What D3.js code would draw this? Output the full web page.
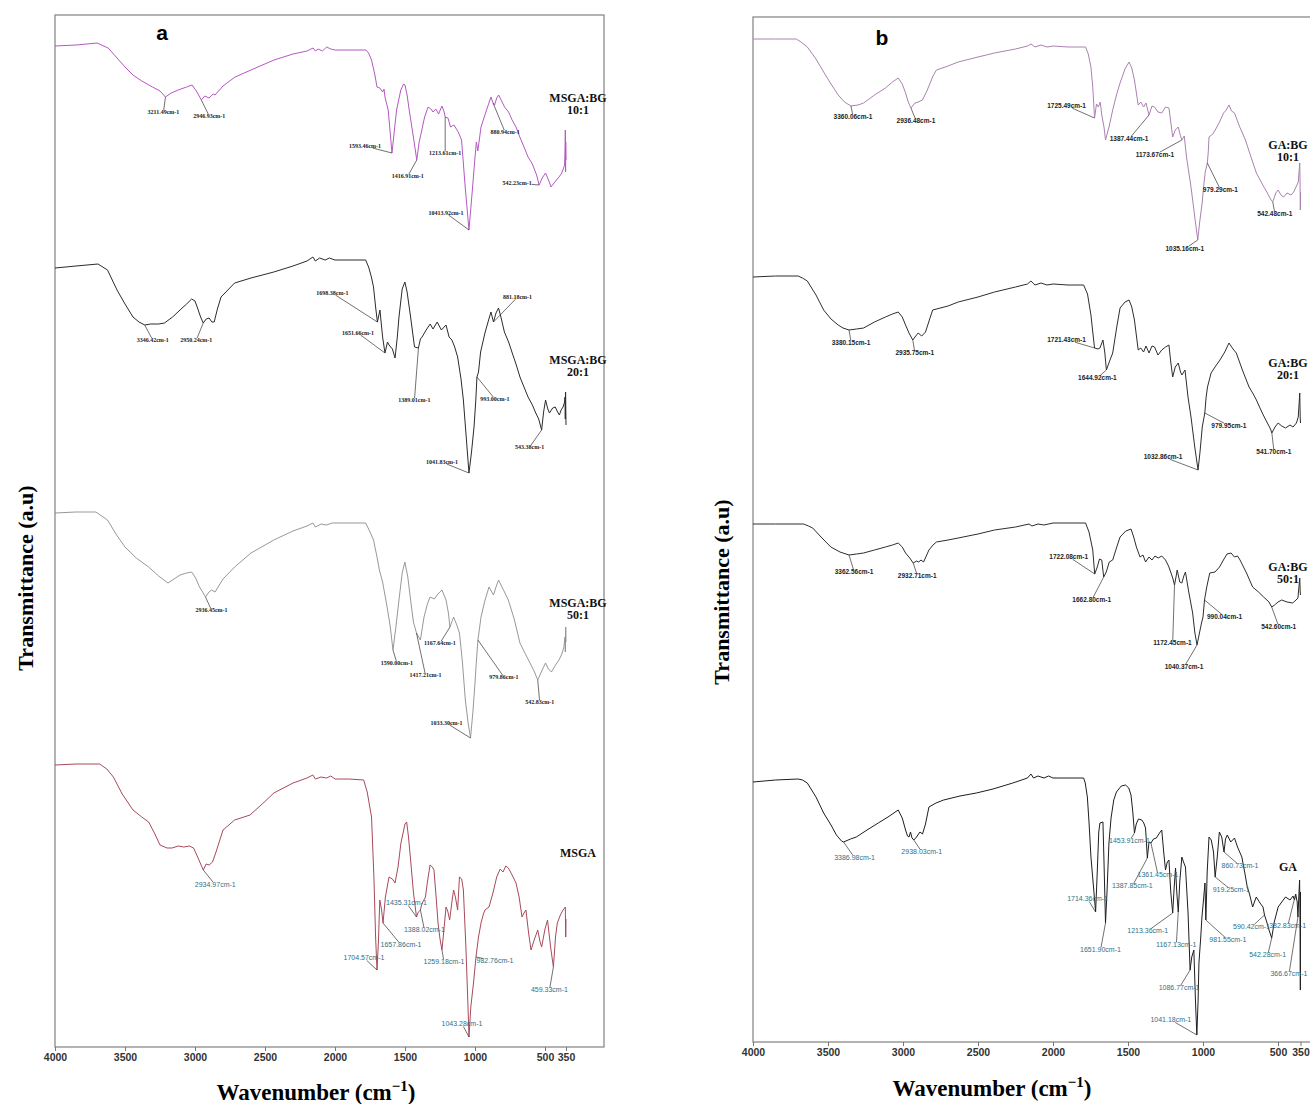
<!DOCTYPE html>
<html>
<head>
<meta charset="utf-8">
<script src="https://cdn.jsdelivr.net/npm/d3@7"></script>
<style>
body { margin: 0; background: #fff; }
</style>
</head>
<body>
<div id="chart"></div>
<script>

// ---- data (wavenumber cm-1, transmittance a.u., spectra stacked) ----
var wavenumberTicks = [4000, 3500, 3000, 2500, 2000, 1500, 1000, 500, 350];

var msgaBg10 = [[4000,100.1],[3850,100.2],[3700,100.4],[3620,99.9],[3557,98.9],[3500,98.0],[3443,97.2],[3380,96.6],[3304,96.0],[3250,95.6],[3211,95.0],[3170,95.4],[3120,95.7],[3060,96.0],[3021,96.2],[2990,95.6],[2955,94.7],[2930,95.1],[2900,94.9],[2870,95.3],[2857,95.2],[2800,96.1],[2714,97.0],[2600,97.7],[2436,98.7],[2300,99.3],[2200,99.6],[2157,99.9],[2140,99.6],[2120,99.8],[2090,99.6],[2060,100.0],[2030,99.8],[2000,99.7],[1900,99.7],[1779,99.7],[1760,99.4],[1739,98.7],[1715,97.2],[1700,96.0],[1680,95.9],[1660,95.5],[1650,95.8],[1643,95.0],[1620,93.7],[1593,89.4],[1575,91.8],[1560,93.7],[1530,95.7],[1510,96.3],[1500,96.2],[1485,95.2],[1470,93.7],[1440,91.0],[1416,88.7],[1400,90.4],[1380,91.7],[1360,93.0],[1335,94.0],[1315,93.8],[1300,93.5],[1280,93.8],[1260,93.3],[1236,94.1],[1220,93.5],[1213,93.0],[1193,92.9],[1175,92.0],[1150,92.2],[1120,91.5],[1096,90.7],[1070,86.0],[1043,81.7],[1020,85.5],[1000,89.0],[990,90.5],[980,89.6],[957,92.0],[920,93.6],[886,95.0],[871,94.4],[860,94.2],[845,94.9],[831,95.2],[810,94.6],[789,94.0],[760,93.5],[735,92.7],[707,92.0],[680,91.0],[650,90.0],[621,89.0],[590,88.3],[560,87.2],[542,86.2],[520,86.9],[496,87.4],[475,86.7],[457,86.0],[430,86.5],[400,87.0],[380,87.4],[360,88.2],[356,90.2],[355,91.7],[353,87.5],[352,90.5],[350,88.7]];

var msgaBg20 = [[4000,77.9],[3850,78.1],[3693,78.3],[3625,77.7],[3557,75.7],[3500,74.3],[3443,73.0],[3400,72.5],[3359,72.2],[3317,72.3],[3260,72.3],[3218,72.4],[3160,73.0],[3107,73.7],[3060,74.3],[3024,74.8],[3000,74.6],[2982,73.9],[2960,73.0],[2941,72.4],[2920,72.8],[2899,72.9],[2880,72.5],[2863,72.5],[2840,73.8],[2814,75.0],[2717,76.4],[2600,76.9],[2437,77.5],[2300,78.1],[2200,78.6],[2158,79.0],[2140,78.6],[2110,78.9],[2070,78.7],[2040,78.9],[2000,78.7],[1900,78.7],[1781,78.7],[1760,78.0],[1740,77.0],[1725,76.0],[1710,74.0],[1697,72.5],[1679,73.7],[1660,71.0],[1643,69.4],[1625,70.5],[1614,70.2],[1590,69.8],[1571,68.9],[1555,71.0],[1543,73.0],[1520,75.8],[1501,76.5],[1485,75.5],[1460,73.0],[1432,70.0],[1404,69.9],[1390,70.8],[1378,71.0],[1349,71.7],[1320,72.3],[1300,71.8],[1270,72.5],[1240,71.7],[1207,72.2],[1185,71.0],[1165,70.7],[1145,70.0],[1124,69.0],[1100,66.8],[1083,64.7],[1060,60.5],[1043,57.4],[1025,59.5],[1007,62.0],[995,64.5],[986,67.0],[975,67.5],[960,69.5],[929,71.4],[905,72.6],[886,73.5],[868,72.5],[850,73.4],[832,73.9],[815,73.0],[790,71.5],[760,70.5],[734,69.4],[705,68.2],[679,67.0],[650,66.0],[621,65.0],[590,64.2],[566,63.4],[545,62.8],[524,61.7],[510,63.5],[496,64.7],[480,63.8],[468,63.4],[445,63.9],[427,64.0],[410,63.5],[397,63.2],[385,63.7],[371,64.0],[360,64.5],[357,65.0],[355,62.8],[353,65.5],[350,62.2]];

var msgaBg50 = [[4000,53.4],[3850,53.5],[3708,53.5],[3625,52.7],[3560,51.2],[3500,50.0],[3420,48.9],[3331,48.0],[3260,47.1],[3193,46.4],[3150,46.8],[3107,47.2],[3060,47.4],[3024,47.5],[2995,46.9],[2968,46.0],[2945,45.5],[2925,45.0],[2900,45.5],[2882,45.7],[2857,45.5],[2800,46.8],[2717,48.0],[2600,49.4],[2437,50.7],[2300,51.6],[2200,52.1],[2158,52.4],[2140,52.0],[2100,52.3],[2060,52.2],[2020,52.4],[1900,52.4],[1781,52.4],[1760,51.8],[1725,50.7],[1700,49.0],[1683,47.7],[1660,46.5],[1628,44.0],[1605,42.0],[1586,39.7],[1565,42.0],[1543,44.7],[1520,47.4],[1501,48.5],[1480,47.0],[1460,44.7],[1440,42.5],[1418,41.4],[1390,40.7],[1364,43.0],[1340,44.3],[1321,45.0],[1290,44.8],[1265,45.3],[1236,45.7],[1207,44.7],[1190,43.4],[1179,42.0],[1153,43.0],[1130,42.2],[1111,41.4],[1090,38.5],[1069,34.7],[1050,32.5],[1032,30.9],[1015,33.5],[1000,36.4],[990,38.6],[979,40.7],[957,43.0],[930,44.6],[900,46.0],[868,45.2],[850,46.0],[832,46.7],[800,45.8],[762,44.7],[720,42.8],[679,40.4],[640,39.3],[607,38.4],[575,37.5],[552,36.7],[520,37.7],[496,38.4],[475,37.8],[454,37.5],[425,38.2],[400,38.7],[380,39.3],[365,40.0],[357,41.0],[355,39.5],[352,42.0],[350,40.5]];

var msga = [[4000,28.2],[3850,28.3],[3681,28.3],[3630,27.8],[3583,27.0],[3520,25.3],[3443,23.7],[3380,23.0],[3331,22.5],[3290,21.4],[3250,20.2],[3200,19.9],[3164,19.9],[3120,20.1],[3080,20.0],[3040,20.1],[3010,19.9],[2975,18.8],[2941,17.7],[2920,18.3],[2899,18.2],[2875,18.5],[2850,19.5],[2800,21.7],[2717,22.7],[2607,23.2],[2520,24.3],[2437,25.4],[2300,26.4],[2200,26.9],[2158,27.2],[2140,26.8],[2100,27.0],[2060,26.9],[2030,27.1],[2000,26.8],[1900,26.8],[1795,26.7],[1770,25.5],[1739,23.0],[1722,17.0],[1710,11.0],[1700,7.7],[1690,10.5],[1680,14.7],[1668,13.8],[1657,12.4],[1640,15.0],[1614,17.0],[1590,16.8],[1571,16.4],[1550,18.0],[1529,20.4],[1500,22.3],[1488,22.5],[1475,21.0],[1460,18.7],[1440,15.5],[1418,13.0],[1405,13.5],[1390,13.7],[1380,14.3],[1354,15.0],[1340,16.5],[1321,18.2],[1305,18.0],[1293,17.7],[1275,14.5],[1264,12.4],[1250,10.8],[1236,9.7],[1220,12.0],[1207,14.0],[1195,13.6],[1181,12.7],[1165,14.5],[1153,15.7],[1140,15.0],[1124,13.7],[1111,17.0],[1095,16.8],[1083,15.7],[1065,10.0],[1050,4.0],[1043,1.0],[1030,4.0],[1010,6.5],[993,9.0],[975,11.0],[957,12.4],[940,13.3],[929,13.7],[900,14.0],[870,15.5],[845,17.0],[820,17.8],[800,17.5],[780,18.1],[762,17.9],[735,17.2],[707,16.4],[685,15.0],[664,13.0],[650,13.4],[636,13.7],[618,11.5],[600,9.7],[575,10.8],[552,11.7],[535,10.5],[524,10.0],[500,11.8],[482,12.7],[460,10.0],[440,8.0],[425,11.0],[412,12.4],[390,13.2],[371,13.7],[355,14.0],[352,11.0],[350,12.8]];

var gaBg10 = [[4000,100.3],[3850,100.3],[3711,100.3],[3680,100.0],[3638,99.5],[3580,98.3],[3529,97.0],[3480,95.8],[3432,94.7],[3390,94.0],[3347,93.6],[3300,93.7],[3263,93.9],[3190,94.7],[3117,95.4],[3070,96.0],[3032,96.4],[3005,95.8],[2983,94.9],[2965,94.0],[2947,93.4],[2920,93.9],[2899,94.0],[2870,94.2],[2838,95.2],[2800,96.6],[2777,97.2],[2700,97.6],[2632,98.0],[2500,98.5],[2390,98.9],[2250,99.3],[2170,99.6],[2147,99.8],[2120,99.5],[2080,99.7],[2040,99.5],[2000,99.6],[1900,99.5],[1783,99.5],[1765,98.8],[1747,97.5],[1735,95.5],[1723,92.4],[1710,93.8],[1698,93.5],[1685,94.0],[1675,92.7],[1660,91.5],[1650,90.2],[1625,91.6],[1602,93.2],[1575,94.8],[1553,95.9],[1520,97.3],[1493,98.0],[1475,97.4],[1457,96.2],[1432,93.7],[1415,94.0],[1396,93.5],[1380,93.9],[1360,92.7],[1340,93.6],[1323,93.5],[1300,93.0],[1275,92.9],[1250,93.5],[1227,93.4],[1215,92.0],[1202,90.5],[1185,91.2],[1165,91.5],[1150,90.6],[1141,90.2],[1125,90.6],[1110,88.5],[1080,85.5],[1055,82.5],[1035,80.2],[1022,82.0],[1005,84.0],[996,85.5],[985,87.0],[971,87.9],[965,89.0],[960,90.5],[935,90.8],[911,91.4],[890,92.0],[863,92.9],[845,93.2],[827,93.7],[810,93.1],[790,92.9],[755,91.5],[717,90.2],[680,88.5],[644,86.9],[605,85.8],[571,84.9],[550,84.3],[535,84.0],[515,84.9],[499,85.2],[480,84.7],[462,84.5],[440,84.9],[413,84.7],[395,85.0],[377,85.6],[365,86.0],[355,87.9],[353,86.0],[351,83.2],[350,85.0]];

var gaBg20 = [[4000,76.5],[3850,76.6],[3699,76.6],[3670,76.4],[3638,76.1],[3580,74.7],[3529,73.2],[3480,72.3],[3432,71.7],[3400,71.4],[3360,71.2],[3310,71.3],[3263,71.4],[3190,72.0],[3117,72.5],[3070,72.8],[3032,73.0],[3005,72.5],[2983,71.7],[2960,70.9],[2935,70.2],[2915,70.6],[2899,70.9],[2875,70.6],[2850,71.0],[2820,72.4],[2802,73.2],[2700,73.6],[2632,74.0],[2500,74.5],[2390,75.0],[2250,75.5],[2170,75.8],[2147,76.1],[2120,75.7],[2080,75.9],[2040,75.7],[2000,75.8],[1900,75.7],[1796,75.7],[1770,74.8],[1747,72.7],[1735,71.0],[1723,69.4],[1700,69.3],[1687,69.4],[1667,70.2],[1655,69.0],[1644,67.2],[1625,68.0],[1602,68.9],[1575,71.5],[1553,73.4],[1520,74.0],[1493,74.2],[1475,73.5],[1457,72.2],[1432,69.2],[1415,69.4],[1396,69.0],[1380,69.6],[1360,68.9],[1340,69.6],[1323,69.5],[1300,68.7],[1275,69.2],[1250,69.5],[1227,69.7],[1215,68.0],[1202,66.5],[1185,67.5],[1165,67.9],[1150,67.0],[1141,66.7],[1120,67.2],[1100,64.5],[1080,62.5],[1055,59.5],[1033,57.2],[1020,59.0],[1005,61.5],[988,62.9],[979,64.5],[970,65.5],[946,66.9],[920,67.5],[887,68.2],[855,69.0],[827,69.9],[800,69.3],[778,68.9],[740,67.3],[693,65.5],[665,64.8],[644,64.2],[605,62.9],[571,61.9],[550,61.3],[541,60.9],[520,61.5],[499,61.9],[475,61.6],[450,61.4],[420,61.7],[400,61.5],[377,61.9],[365,62.5],[355,64.9],[352,62.5],[350,61.9]];

var gaBg50 = [[4000,51.8],[3850,51.8],[3663,51.8],[3630,51.6],[3602,51.4],[3540,50.4],[3481,49.5],[3420,49.0],[3360,48.7],[3310,48.8],[3263,48.9],[3190,49.2],[3117,49.5],[3070,49.7],[3032,49.9],[3005,49.5],[2983,48.9],[2955,48.4],[2932,47.9],[2910,48.1],[2895,48.0],[2880,48.2],[2863,48.0],[2845,48.6],[2827,49.2],[2800,49.7],[2777,50.0],[2700,50.2],[2632,50.4],[2500,50.8],[2390,51.2],[2250,51.5],[2160,51.8],[2140,51.6],[2100,51.8],[2060,51.7],[2000,51.9],[1900,51.9],[1783,51.9],[1760,51.0],[1735,49.2],[1722,46.8],[1705,47.5],[1690,48.3],[1675,48.2],[1662,46.5],[1645,47.0],[1625,48.0],[1602,48.2],[1575,49.5],[1553,50.5],[1515,51.1],[1480,51.3],[1462,50.5],[1444,49.5],[1420,48.5],[1400,48.7],[1383,48.0],[1360,48.5],[1340,48.2],[1320,48.6],[1299,48.4],[1275,48.6],[1250,48.2],[1230,47.6],[1213,46.9],[1200,46.3],[1190,45.7],[1180,46.5],[1172,47.2],[1155,46.0],[1141,45.9],[1128,46.6],[1117,47.0],[1095,45.0],[1069,42.9],[1055,41.0],[1040,39.7],[1025,40.8],[1010,41.9],[1000,42.5],[990,44.2],[975,45.5],[955,46.9],[920,47.0],[890,47.5],[860,48.3],[840,48.8],[813,48.9],[790,48.5],[770,48.6],[753,48.2],[710,46.9],[669,45.5],[630,45.0],[596,44.5],[560,44.0],[542,43.5],[523,43.7],[500,44.0],[475,44.2],[440,44.0],[402,43.9],[380,44.2],[367,44.4],[355,46.4],[352,45.0],[350,44.7]];

var ga = [[4000,26.0],[3850,26.2],[3699,26.3],[3670,26.2],[3638,25.9],[3580,24.5],[3529,22.9],[3480,21.7],[3444,20.7],[3410,20.1],[3396,20.0],[3350,20.3],[3311,20.5],[3240,21.2],[3165,21.9],[3100,22.5],[3032,23.2],[3005,22.4],[2983,21.2],[2970,20.6],[2960,20.5],[2950,21.0],[2940,20.4],[2928,20.2],[2910,20.5],[2887,21.0],[2870,20.8],[2850,21.8],[2827,23.5],[2780,23.9],[2729,24.2],[2620,24.6],[2511,24.9],[2400,25.3],[2268,25.9],[2170,26.4],[2147,26.8],[2130,26.4],[2100,26.6],[2060,26.4],[2030,26.6],[2000,26.4],[1900,26.4],[1796,26.4],[1785,25.9],[1771,24.5],[1760,22.0],[1747,18.5],[1730,15.5],[1716,13.0],[1705,17.0],[1695,21.0],[1687,21.9],[1667,22.0],[1660,18.0],[1650,11.9],[1640,15.0],[1627,19.9],[1613,22.4],[1595,24.2],[1577,25.0],[1545,25.6],[1517,25.7],[1495,25.4],[1480,24.7],[1468,23.0],[1457,20.9],[1445,21.8],[1430,22.3],[1408,22.2],[1395,21.9],[1383,21.4],[1371,18.4],[1360,20.0],[1347,19.9],[1330,20.3],[1311,20.4],[1290,20.9],[1275,21.2],[1262,19.0],[1250,17.2],[1238,18.0],[1227,18.2],[1215,15.0],[1202,12.9],[1192,15.5],[1183,17.4],[1175,15.0],[1165,13.0],[1155,16.0],[1141,18.5],[1130,18.0],[1117,17.5],[1100,13.0],[1086,7.2],[1075,8.5],[1061,9.2],[1050,4.0],[1041,0.7],[1033,4.0],[1027,7.9],[1015,10.5],[1007,12.5],[995,14.5],[987,15.9],[981,12.2],[972,17.0],[960,20.5],[945,20.2],[930,19.0],[919,16.5],[905,18.5],[891,21.0],[875,20.5],[860,19.0],[850,20.3],[838,20.7],[815,20.0],[790,20.4],[770,19.5],[741,18.5],[720,16.8],[705,15.5],[690,14.8],[669,13.5],[645,14.5],[620,13.9],[600,13.5],[590,12.7],[575,12.0],[560,11.2],[542,10.4],[525,12.0],[499,13.5],[475,14.0],[450,14.5],[420,14.2],[400,14.6],[390,14.2],[382,14.8],[372,14.0],[367,12.5],[362,14.3],[356,16.2],[353,12.0],[351,5.2],[350,15.0]];

// peak labels: [text, wavenumber, label dx, label dy]
var msgaBg10Peaks = [["3211.49cm-1",3211,-2,15],["2946.93cm-1",2955,8,16],["1593.46cm-1",1593,-27,-7],["1416.91cm-1",1416,-9,16],["1213.61cm-1",1213,0,36],["10413.92cm-1",1043,-23,-17],["880.94cm-1",871,12,29],["542.23cm-1",542,-22,-2]];
var msgaBg20Peaks = [["3346.42cm-1",3359,8,15],["2950.24cm-1",2941,-7,17],["1698.38cm-1",1697,-45,-29],["1651.66cm-1",1643,-27,-20],["1389.01cm-1",1404,-4,52],["993.00cm-1",986,18,22],["881.18cm-1",868,24,-25],["1041.83cm-1",1043,-27,-11],["543.38cm-1",524,-12,17]];
var msgaBg50Peaks = [["2936.45cm-1",2925,6,13],["1590.00cm-1",1586,4,13],["1417.21cm-1",1418,9,42],["1167.64cm-1",1179,-10,16],["979.86cm-1",979,26,37],["1033.30cm-1",1032,-24,-15],["542.83cm-1",552,2,22]];
var msgaPeaks = [["2934.97cm-1",2941,12,15],["1435.31cm-1",1418,-10,-14],["1388.02cm-1",1390,4,20],["1657.86cm-1",1657,18,22],["1704.57cm-1",1700,-13,-12],["1259.18cm-1",1236,2,12],["982.76cm-1",993,19,4],["459.33cm-1",440,-4,23],["1043.28cm-1",1043,-7,-13]];
var gaBg10Peaks = [["3360.06cm-1",3347,2,11],["2936.48cm-1",2947,5,13],["1725.49cm-1",1723,-28,-12],["1387.44cm-1",1360,-20,24],["1173.67cm-1",1141,-27,15],["1035.16cm-1",1035,-13,9],["979.29cm-1",971,13,27],["542.48cm-1",535,2,12]];
var gaBg20Peaks = [["3380.15cm-1",3360,2,13],["2935.75cm-1",2935,2,13],["1721.43cm-1",1723,-28,-8],["1644.92cm-1",1644,-9,8],["1032.86cm-1",1033,-35,-13],["979.95cm-1",988,24,13],["541.70cm-1",541,2,19]];
var gaBg50Peaks = [["3362.56cm-1",3360,5,17],["2932.71cm-1",2932,4,13],["1722.08cm-1",1722,-26,-17],["1662.80cm-1",1662,-12,23],["1172.45cm-1",1190,-2,58],["1040.37cm-1",1040,-13,22],["990.04cm-1",990,20,17],["542.60cm-1",542,7,20]];
var gaPeaks = [["3386.98cm-1",3396,11,16],["2938.03cm-1",2928,8,12],["1714.36cm-1",1716,-8,-13],["1651.90cm-1",1650,-5,27],["1453.91cm-1",1457,-5,8],["1387.85cm-1",1371,-15,28],["1361.45cm-1",1347,7,32],["1213.36cm-1",1202,-25,18],["1167.13cm-1",1165,-2,33],["1086.77cm-1",1086,-11,18],["1041.18cm-1",1041,-26,-15],["981.55cm-1",981,22,20],["919.25cm-1",919,16,13],["860.73cm-1",860,16,14],["590.42cm-1",590,-13,12],["542.28cm-1",542,-4,17],["382.83cm-1",382,-8,32],["366.67cm-1",367,-9,57]];

var sampleNamesA = [["MSGA:BG", "10:1"], ["MSGA:BG", "20:1"], ["MSGA:BG", "50:1"], ["MSGA"]];
var sampleNamesB = [["GA:BG", "10:1"], ["GA:BG", "20:1"], ["GA:BG", "50:1"], ["GA"]];

// ---- layout ----
var width = 1310, height = 1104;

var svg = d3.select("#chart")
    .append("svg")
        .attr("width", width)
        .attr("height", height)
        .style("display", "block");

svg.append("rect").attr("width", width).attr("height", height).attr("fill", "#fff");

var panels = [
    {
        letter: "a", x0: 55, x1: 566, frameRight: 604, top: 15, bottom: 1047, yMax: 103.2,
        letterPos: [162, 40], yTitle: [25, 578], xTitle: [316, 1100],
        nameX: 578, nameY: [98, 360, 603, 853], names: sampleNamesA,
        series: [
            {data: msgaBg10, peaks: msgaBg10Peaks, color: "#b558c2", w: 1, font: "'Liberation Serif', serif", size: 6, tcolor: "#1a1a1a", weight: "bold"},
            {data: msgaBg20, peaks: msgaBg20Peaks, color: "#2b2b2b", w: 1, font: "'Liberation Serif', serif", size: 6, tcolor: "#1a1a1a", weight: "bold"},
            {data: msgaBg50, peaks: msgaBg50Peaks, color: "#8c8c8c", w: 0.9, font: "'Liberation Serif', serif", size: 6, tcolor: "#1a1a1a", weight: "bold"},
            {data: msga, peaks: msgaPeaks, color: "#a84a5a", w: 1, font: "'Liberation Sans', Arial, sans-serif", size: 7, tcolor: "#2f7088", weight: "normal"}
        ]
    },
    {
        letter: "b", x0: 753, x1: 1300.5, frameRight: 1330, top: 17, bottom: 1042, yMax: 102.5,
        letterPos: [882, 45], yTitle: [721, 592], xTitle: [992, 1096],
        nameX: 1288, nameY: [145, 363, 567, 867], names: sampleNamesB,
        series: [
            {data: gaBg10, peaks: gaBg10Peaks, color: "#aa82b0", w: 1, font: "'Liberation Sans', Arial, sans-serif", size: 6.5, tcolor: "#222", weight: "bold"},
            {data: gaBg20, peaks: gaBg20Peaks, color: "#2e2e2e", w: 1, font: "'Liberation Sans', Arial, sans-serif", size: 6.5, tcolor: "#222", weight: "bold"},
            {data: gaBg50, peaks: gaBg50Peaks, color: "#2e2e2e", w: 1, font: "'Liberation Sans', Arial, sans-serif", size: 6.5, tcolor: "#222", weight: "bold"},
            {data: ga, peaks: gaPeaks, color: "#1e1e1e", w: 1, font: "'Liberation Sans', Arial, sans-serif", size: 7, tcolor: "#2f7088", weight: "normal"}
        ]
    }
];

function valueAt(series, w) {
    var asc = series.slice().sort(function(a, b) { return a[0] - b[0]; });
    var i = d3.bisector(function(d) { return d[0]; }).left(asc, w);
    if (i <= 0) return asc[0][1];
    if (i >= asc.length) return asc[asc.length - 1][1];
    var a = asc[i - 1], b = asc[i];
    var t = (w - a[0]) / (b[0] - a[0]);
    return a[1] + t * (b[1] - a[1]);
}

panels.forEach(function(p) {
    var xScale = d3.scaleLinear().domain([4000, 350]).range([p.x0, p.x1]);
    var yScale = d3.scaleLinear().domain([0, p.yMax]).range([p.bottom, p.top]);
    var g = svg.append("g");

    // frame
    g.append("rect")
        .attr("x", p.x0).attr("y", p.top)
        .attr("width", p.frameRight - p.x0).attr("height", p.bottom - p.top)
        .attr("fill", "none").attr("stroke", "#8a8a8a").attr("stroke-width", 1.3);

    // x axis
    var axis = g.append("g")
        .attr("transform", "translate(0," + p.bottom + ")")
        .call(d3.axisBottom(xScale).tickValues(wavenumberTicks).tickSize(4).tickPadding(3).tickFormat(d3.format("d")));
    axis.select(".domain").remove();
    axis.selectAll(".tick line").attr("stroke", "#777");
    axis.selectAll(".tick text")
        .attr("fill", "#333")
        .style("font-family", "'Liberation Sans', Arial, sans-serif")
        .style("font-size", "10.5px")
        .style("font-weight", "bold");

    var line = d3.line()
        .x(function(d) { return xScale(d[0]); })
        .y(function(d) { return yScale(d[1]); });

    p.series.forEach(function(s, si) {
        g.append("path")
            .datum(s.data)
            .attr("d", line)
            .attr("fill", "none")
            .attr("stroke", s.color)
            .attr("stroke-width", s.w)
            .attr("stroke-linejoin", "round");

        var ann = g.append("g");
        s.peaks.forEach(function(pk) {
            var px = xScale(pk[1]), py = yScale(valueAt(s.data, pk[1]));
            var t = ann.append("text")
                .attr("x", px + pk[2]).attr("y", py + pk[3])
                .attr("dy", "0.35em")
                .attr("text-anchor", "middle")
                .attr("fill", s.tcolor)
                .style("font-family", s.font)
                .style("font-size", s.size + "px")
                .style("font-weight", s.weight)
                .text(pk[0]);
            var bb = t.node().getBBox();
            var cx = bb.x + bb.width / 2, cy = bb.y + bb.height / 2;
            var dx = cx - px, dy = cy - py;
            var k = Math.min(dx ? (bb.width / 2) / Math.abs(dx) : Infinity,
                             dy ? (bb.height / 2 - 1) / Math.abs(dy) : Infinity, 1);
            ann.append("line")
                .attr("x1", px).attr("y1", py)
                .attr("x2", cx - dx * k).attr("y2", cy - dy * k)
                .attr("stroke", "#333").attr("stroke-width", 0.7);
        });

        // sample name
        var nm = g.append("text")
            .attr("x", p.nameX).attr("y", p.nameY[si] + 4)
            .attr("text-anchor", "middle")
            .attr("fill", "#111")
            .style("font-family", "'Liberation Serif', 'Times New Roman', serif")
            .style("font-size", "12px")
            .style("font-weight", "bold");
        p.names[si].forEach(function(str, li) {
            nm.append("tspan").attr("x", p.nameX).attr("dy", li ? 12 : 0).text(str);
        });
    });

    // panel letter
    g.append("text")
        .attr("x", p.letterPos[0]).attr("y", p.letterPos[1])
        .attr("text-anchor", "middle")
        .style("font-family", "'Liberation Sans', Arial, sans-serif")
        .style("font-size", "21px").style("font-weight", "bold")
        .text(p.letter);

    // y title
    g.append("text")
        .attr("transform", "translate(" + p.yTitle[0] + "," + p.yTitle[1] + ") rotate(-90)")
        .attr("text-anchor", "middle")
        .attr("dy", "0.35em")
        .style("font-family", "'Liberation Serif', 'Times New Roman', serif")
        .style("font-size", "22px").style("font-weight", "bold")
        .text("Transmittance (a.u)");

    // x title
    var xt = g.append("text")
        .attr("x", p.xTitle[0]).attr("y", p.xTitle[1])
        .attr("text-anchor", "middle")
        .style("font-family", "'Liberation Serif', 'Times New Roman', serif")
        .style("font-size", "23px").style("font-weight", "bold");
    xt.append("tspan").text("Wavenumber (cm");
    xt.append("tspan").attr("dy", -9).style("font-size", "15px").text("\u22121");
    xt.append("tspan").attr("dy", 9).text(")");
});

</script>
</body>
</html>
